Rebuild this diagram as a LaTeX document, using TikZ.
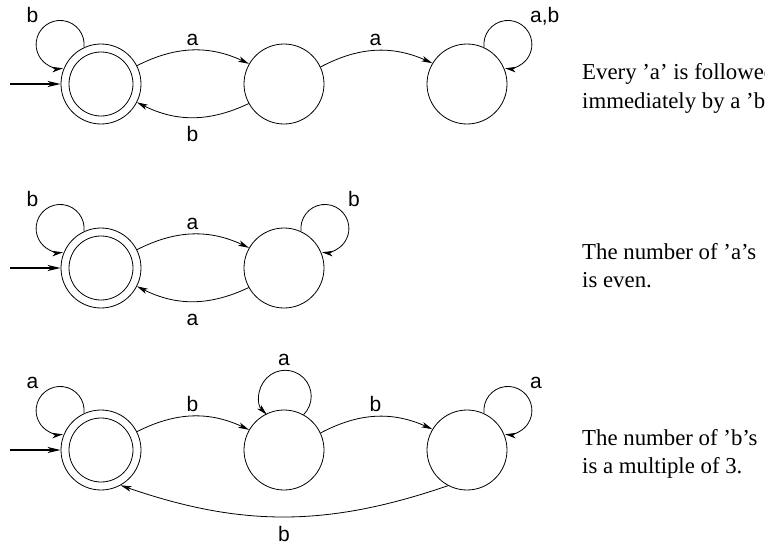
\documentclass[tikz,border=0pt]{standalone}
\usepackage{fontspec}
\setmainfont{Liberation Serif}
\setsansfont{Liberation Sans}
\usetikzlibrary{arrows.meta}
\begin{document}
\begin{tikzpicture}[x=1pt,y=1pt,
  state/.style={circle,draw,line width=0.8pt,minimum size=80pt,inner sep=0pt},
  inner/.style={circle,draw,line width=0.8pt,minimum size=64pt,inner sep=0pt},
  edge/.style={line width=0.8pt,-{Stealth[length=11pt,width=5.5pt,inset=3pt]}},
  initarrow/.style={line width=1.3pt,-{Stealth[length=13pt,width=6pt,inset=3.5pt]}},
  lbl/.style={font=\sffamily\fontsize{21}{24}\selectfont,inner sep=0pt,anchor=base},
  lblw/.style={lbl,anchor=base west},
  desc/.style={font=\fontsize{22.8}{28}\selectfont,inner sep=0pt,anchor=base west}]
\useasboundingbox (0,0) rectangle (765,-546);

% ---------- Row 1 ----------
\node[state] (s11) at (101,-84) {};
\node[inner] (s11i) at (s11.center) {};
\node[state] (s12) at (284,-84) {};
\node[state] (s13) at (467,-84) {};
\coordinate (i1) at (10,-84);
\draw[initarrow] (i1) -- (s11);
\draw[edge] (s11.115) arc[start angle=-7,end angle=277,radius=24];
\draw[edge] (s11.27) to[bend left=26] (s12.150);
\draw[edge] (s12.209) to[bend left=26] (s11.333);
\draw[edge] (s12.25) to[bend left=26] (s13.149);
\draw[edge] (s13.65) arc[start angle=187,end angle=-97,radius=24];
\node[lbl] (l1a) at (32.5,-22) {b};
\node[lbl] (l1b) at (192.5,-45) {a};
\node[lbl] (l1c) at (192.5,-141.7) {b};
\node[lbl] (l1d) at (375.5,-45) {a};
\node[lblw] (l1e) at (530,-22) {a,b};
\node[desc] (t1a) at (582,-79) {Every 'a' is followed};
\node[desc] (t1b) at (582,-108) {immediately by a 'b'.};

% ---------- Row 2 ----------
\node[state] (s21) at (101,-268) {};
\node[inner] (s21i) at (s21.center) {};
\node[state] (s22) at (284,-268) {};
\coordinate (i2) at (10,-268);
\draw[initarrow] (i2) -- (s21);
\draw[edge] (s21.115) arc[start angle=-7,end angle=277,radius=24];
\draw[edge] (s21.27) to[bend left=26] (s22.150);
\draw[edge] (s22.209) to[bend left=26] (s21.333);
\draw[edge] (s22.65) arc[start angle=187,end angle=-97,radius=24];
\node[lbl] (l2a) at (32.5,-206) {b};
\node[lbl] (l2b) at (192.5,-229) {a};
\node[lbl] (l2c) at (192.5,-325) {a};
\node[lblw] (l2d) at (348,-206) {b};
\node[desc] (t2a) at (582,-259) {The number of 'a's};
\node[desc] (t2b) at (582,-287) {is even.};

% ---------- Row 3 ----------
\node[state] (s31) at (101,-450) {};
\node[inner] (s31i) at (s31.center) {};
\node[state] (s32) at (284,-450) {};
\node[state] (s33) at (467,-450) {};
\coordinate (i3) at (10,-450);
\draw[initarrow] (i3) -- (s31);
\draw[edge] (s31.115) arc[start angle=-7,end angle=277,radius=24];
\draw[edge] (s31.27) to[bend left=26] (s32.150);
\draw[edge] (s32.61) arc[start angle=-45,end angle=225,radius=26];
\draw[edge] (s32.25) to[bend left=26] (s33.149);
\draw[edge] (s33.65) arc[start angle=187,end angle=-97,radius=24];
\draw[edge] (s33.242) to[bend left=19] (s31.299);
\node[lbl] (l3a) at (32.5,-388) {a};
\node[lbl] (l3b) at (192.5,-411) {b};
\node[lbl] (l3c) at (284,-365) {a};
\node[lbl] (l3d) at (375.5,-411) {b};
\node[lblw] (l3e) at (530,-388) {a};
\node[lbl] (l3f) at (284,-541.7) {b};
\node[desc] (t3a) at (582,-445) {The number of 'b's};
\node[desc] (t3b) at (582,-473) {is a multiple of 3.};
\end{tikzpicture}
\end{document}
